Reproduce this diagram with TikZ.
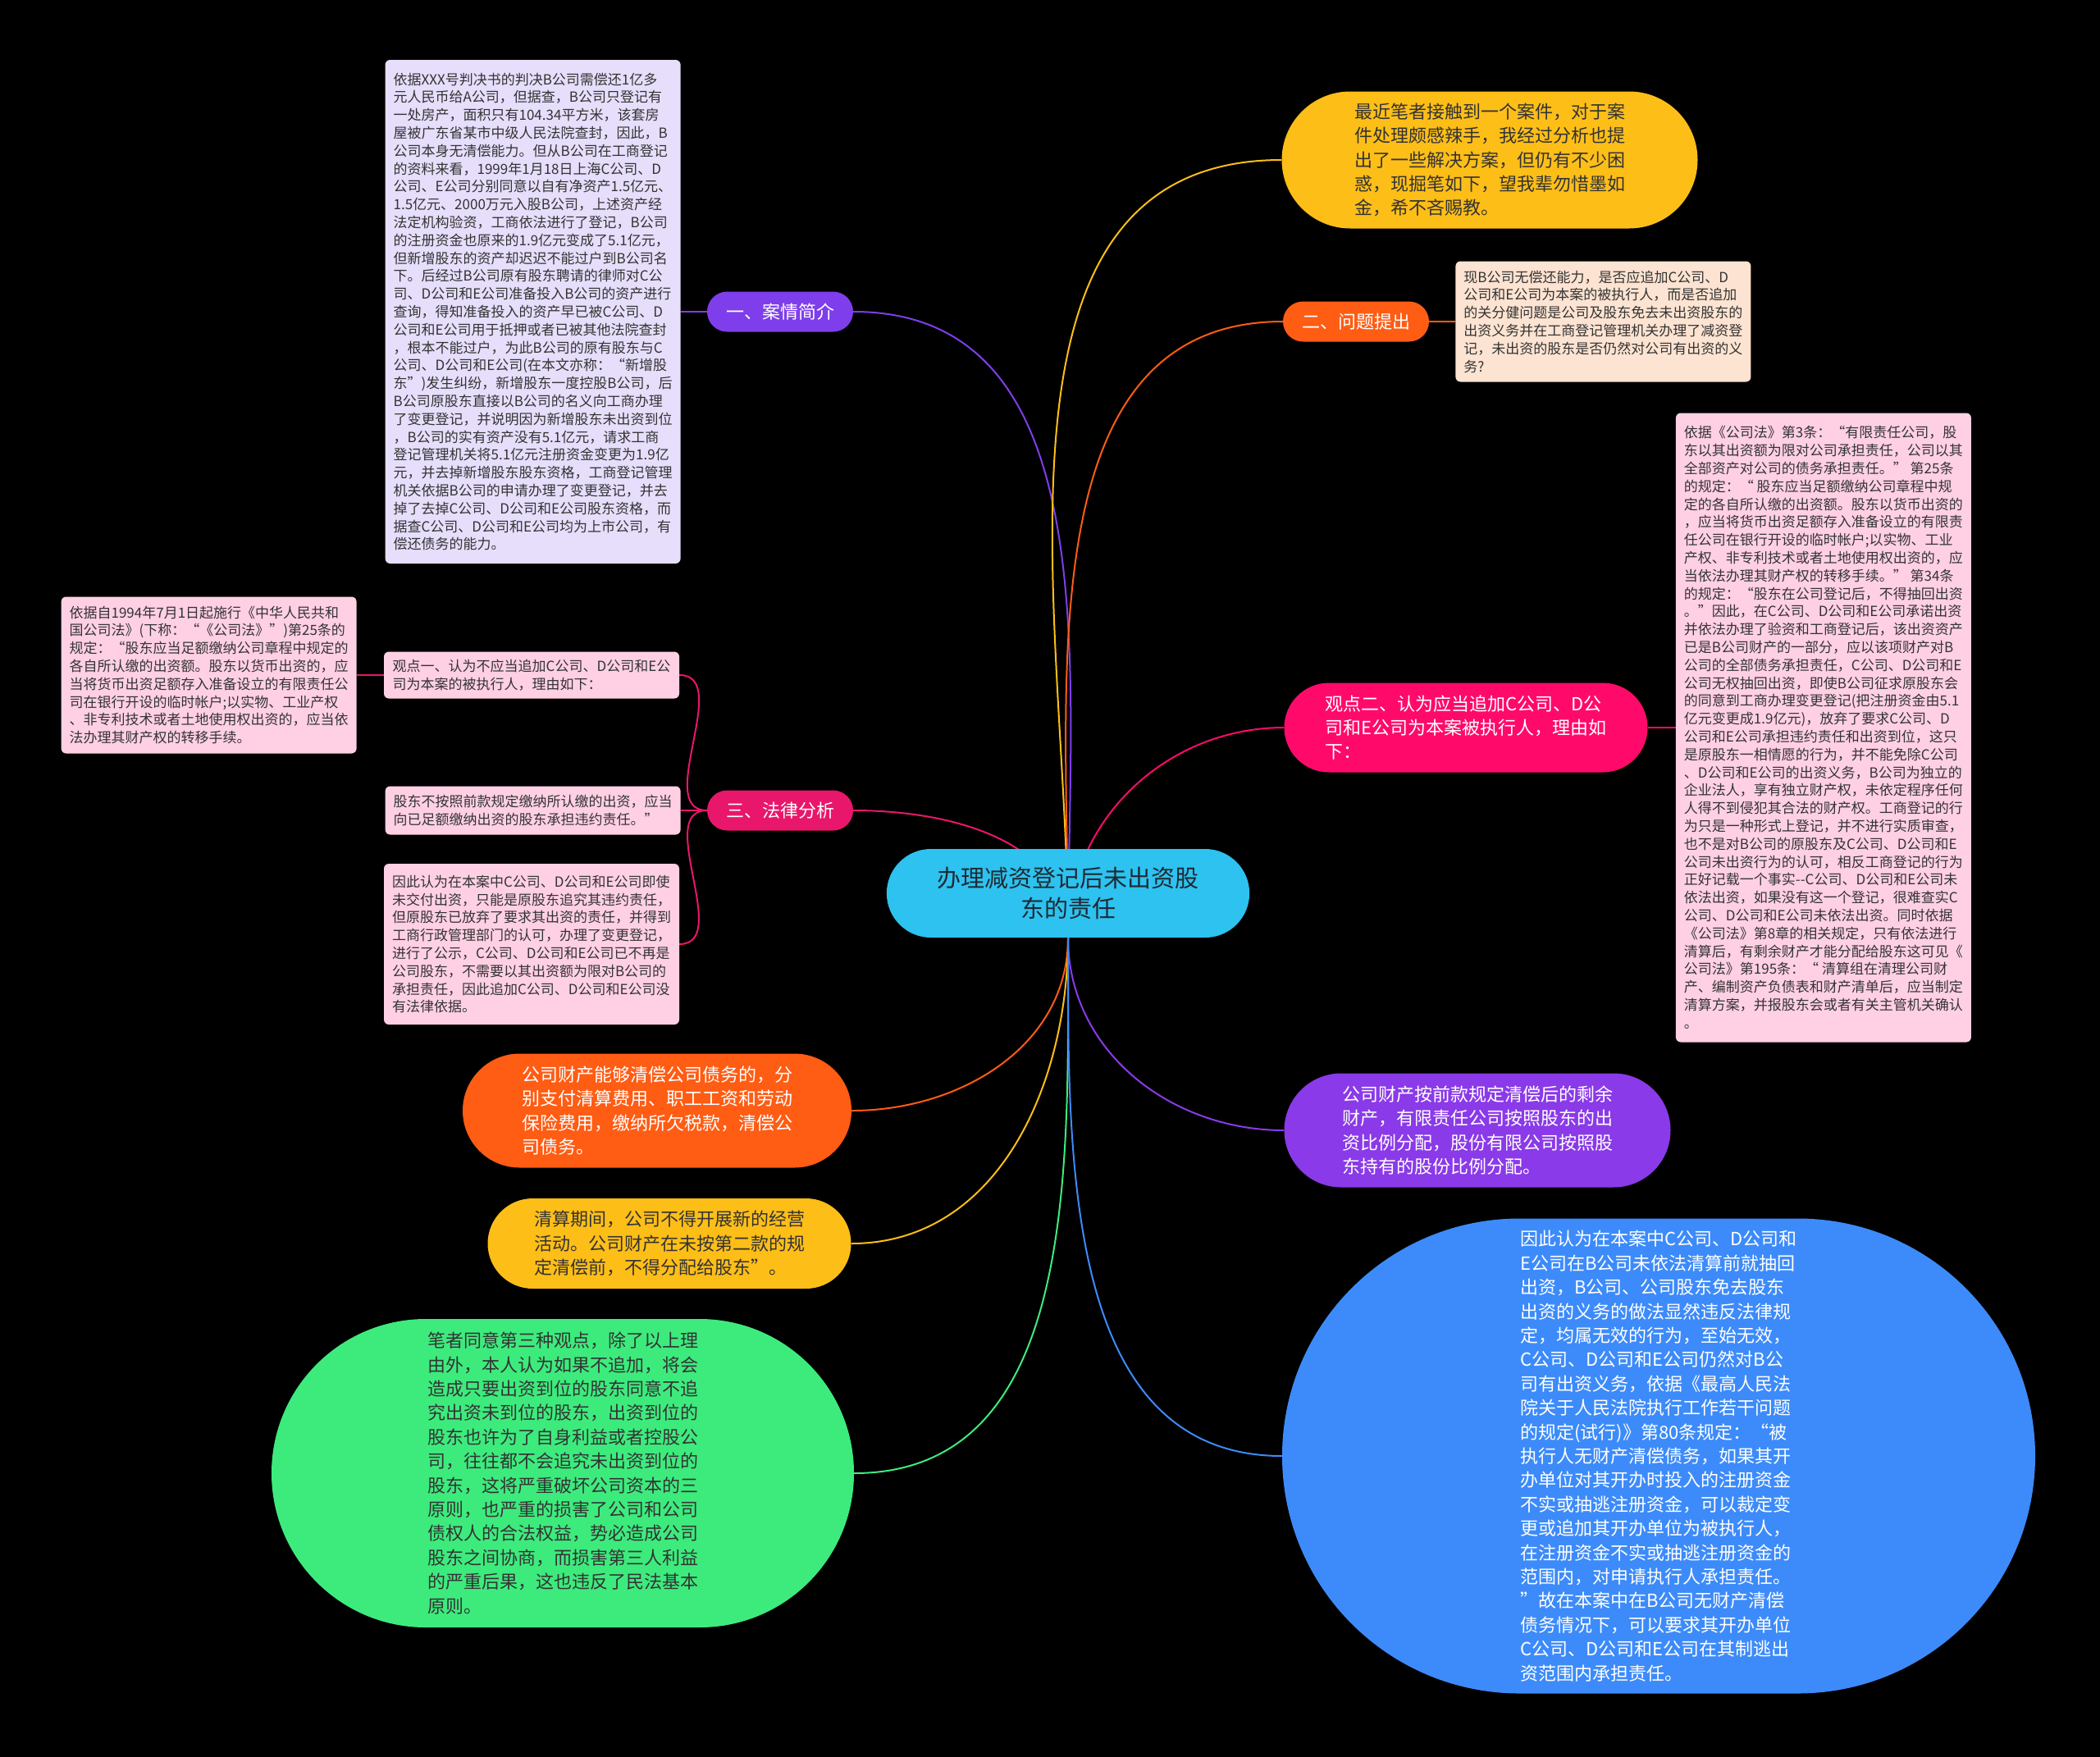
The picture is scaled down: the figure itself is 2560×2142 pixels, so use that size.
\documentclass[tikz,border=0pt]{standalone}
\usepackage{fontspec}
\setmainfont{Noto Sans CJK SC}
\usetikzlibrary{positioning,shapes.misc}
\definecolor{rootcyan}{HTML}{2DC2EF}
\definecolor{rootink}{HTML}{1E2A33}
\definecolor{inkgrey}{HTML}{333333}
\definecolor{mmpurple}{HTML}{7E3EEB}
\definecolor{mmcrimson}{HTML}{E8176B}
\definecolor{mmorange}{HTML}{FF5C14}
\definecolor{mmamber}{HTML}{FDBE18}
\definecolor{mmmagenta}{HTML}{FF0A6B}
\definecolor{mmviolet}{HTML}{8A3AE8}
\definecolor{mmblue}{HTML}{3D8BFA}
\definecolor{mmgreen}{HTML}{3DEB7D}
\definecolor{mmlavender}{HTML}{E6DEFB}
\definecolor{mmpink}{HTML}{FFD0E4}
\definecolor{mmpeach}{HTML}{FDE3D1}
\pgfdeclarelayer{links}
\pgfsetlayers{links,main}
\tikzset{
  note/.style  = {rounded corners=6pt, align=left, text=inkgrey, inner xsep=8pt,
                  inner ysep=8pt, minimum width=360pt, font=\fontsize{17}{21.8}\selectfont},
  topic/.style = {rounded rectangle, fill=#1, text=white, minimum width=182pt,
                  minimum height=49pt, inner sep=2pt, font=\fontsize{22}{26}\selectfont},
  pill/.style  = {rounded rectangle, fill=#1, align=left, inner sep=4pt,
                  font=\fontsize{22}{29.4}\selectfont},
  link/.style  = {line width=2pt, draw=#1},
}
\begin{document}
\begin{tikzpicture}[x=1pt, y=-1pt]
  \useasboundingbox (0,0) rectangle (2560,2142);
  % central topic
  \node[rounded rectangle, fill=rootcyan, text=rootink, align=center, minimum width=449pt,
        minimum height=108pt, font=\fontsize{29}{37.5}\selectfont] (root) at (1302,1089)
        {办理减资登记后未出资股\\东的责任};
  \coordinate (hub) at (root.south);
  % left branches
  \node[topic=mmpurple] (brief) at (951,380) {一、案情简介};
  \node[note, fill=mmlavender, minimum height=614pt, left=32pt of brief] (facts)
    {依据XXX号判决书的判决B公司需偿还1亿多\\
     元人民币给A公司，但据查，B公司只登记有\\
     一处房产，面积只有104.34平方米，该套房\\
     屋被广东省某市中级人民法院查封，因此，B\\
     公司本身无清偿能力。但从B公司在工商登记\\
     的资料来看，1999年1月18日上海C公司、D\\
     公司、E公司分别同意以自有净资产1.5亿元、\\
     1.5亿元、2000万元入股B公司，上述资产经\\
     法定机构验资，工商依法进行了登记，B公司\\
     的注册资金也原来的1.9亿元变成了5.1亿元，\\
     但新增股东的资产却迟迟不能过户到B公司名\\
     下。后经过B公司原有股东聘请的律师对C公\\
     司、D公司和E公司准备投入B公司的资产进行\\
     查询，得知准备投入的资产早已被C公司、D\\
     公司和E公司用于抵押或者已被其他法院查封\\
     ，根本不能过户，为此B公司的原有股东与C\\
     公司、D公司和E公司(在本文亦称：“新增股\\
     东”)发生纠纷，新增股东一度控股B公司，后\\
     B公司原股东直接以B公司的名义向工商办理\\
     了变更登记，并说明因为新增股东未出资到位\\
     ，B公司的实有资产没有5.1亿元，请求工商\\
     登记管理机关将5.1亿元注册资金变更为1.9亿\\
     元，并去掉新增股东股东资格，工商登记管理\\
     机关依据B公司的申请办理了变更登记，并去\\
     掉了去掉C公司、D公司和E公司股东资格，而\\
     据查C公司、D公司和E公司均为上市公司，有\\
     偿还债务的能力。};
  \node[topic=mmcrimson] (law) at (951,988) {三、法律分析};
  \node[note, fill=mmpink, minimum height=57pt] (view1) at (648,823)
    {观点一、认为不应当追加C公司、D公司和E公\\
     司为本案的被执行人，理由如下：};
  \node[note, fill=mmpink, minimum height=191pt, left=33pt of view1] (statute)
    {依据自1994年7月1日起施行《中华人民共和\\
     国公司法》(下称：“《公司法》”)第25条的\\
     规定：“股东应当足额缴纳公司章程中规定的\\
     各自所认缴的出资额。股东以货币出资的，应\\
     当将货币出资足额存入准备设立的有限责任公\\
     司在银行开设的临时帐户;以实物、工业产权\\
     、非专利技术或者土地使用权出资的，应当依\\
     法办理其财产权的转移手续。};
  \node[note, fill=mmpink, minimum height=59pt, left=32pt of law] (breach)
    {股东不按照前款规定缴纳所认缴的出资，应当\\
     向已足额缴纳出资的股东承担违约责任。”};
  \node[note, fill=mmpink, minimum height=196pt] (noadd) at (648,1151)
    {因此认为在本案中C公司、D公司和E公司即使\\
     未交付出资，只能是原股东追究其违约责任，\\
     但原股东已放弃了要求其出资的责任，并得到\\
     工商行政管理部门的认可，办理了变更登记，\\
     进行了公示，C公司、D公司和E公司已不再是\\
     公司股东，不需要以其出资额为限对B公司的\\
     承担责任，因此追加C公司、D公司和E公司没\\
     有法律依据。};
  \node[pill=mmorange, text=white, minimum width=482pt, minimum height=139pt] (settle) at (801,1354)
    {公司财产能够清偿公司债务的，分\\
     别支付清算费用、职工工资和劳动\\
     保险费用，缴纳所欠税款，清偿公\\
     司债务。};
  \node[pill=mmamber, text=inkgrey, minimum width=451pt, minimum height=110pt] (winding) at (816,1516)
    {清算期间，公司不得开展新的经营\\
     活动。公司财产在未按第二款的规\\
     定清偿前，不得分配给股东”。};
  \node[pill=mmgreen, text=inkgrey, minimum width=718pt, minimum height=376pt] (opinion) at (686,1796)
    {笔者同意第三种观点，除了以上理\\
     由外，本人认为如果不追加，将会\\
     造成只要出资到位的股东同意不追\\
     究出资未到位的股东，出资到位的\\
     股东也许为了自身利益或者控股公\\
     司，往往都不会追究未出资到位的\\
     股东，这将严重破坏公司资本的三\\
     原则，也严重的损害了公司和公司\\
     债权人的合法权益，势必造成公司\\
     股东之间协商，而损害第三人利益\\
     的严重后果，这也违反了民法基本\\
     原则。};
  % right branches
  \node[pill=mmamber, text=inkgrey, minimum width=515pt, minimum height=167pt] (intro) at (1816,195)
    {最近笔者接触到一个案件，对于案\\
     件处理颇感辣手，我经过分析也提\\
     出了一些解决方案，但仍有不少困\\
     惑，现掘笔如下，望我辈勿惜墨如\\
     金，希不吝赐教。};
  \node[topic=mmorange] (issue) at (1653,392) {二、问题提出};
  \node[note, fill=mmpeach, minimum height=147pt, right=32pt of issue] (question)
    {现B公司无偿还能力，是否应追加C公司、D\\
     公司和E公司为本案的被执行人，而是否追加\\
     的关分健问题是公司及股东免去未出资股东的\\
     出资义务并在工商登记管理机关办理了减资登\\
     记，未出资的股东是否仍然对公司有出资的义\\
     务?};
  \node[pill=mmmagenta, text=white, minimum width=451pt, minimum height=109pt] (view2) at (1787,887)
    {观点二、认为应当追加C公司、D公\\
     司和E公司为本案被执行人，理由如\\
     下：};
  \node[note, fill=mmpink, minimum height=767pt, right=34pt of view2] (reason)
    {依据《公司法》第3条：“有限责任公司，股\\
     东以其出资额为限对公司承担责任，公司以其\\
     全部资产对公司的债务承担责任。” 第25条\\
     的规定：“ 股东应当足额缴纳公司章程中规\\
     定的各自所认缴的出资额。股东以货币出资的\\
     ，应当将货币出资足额存入准备设立的有限责\\
     任公司在银行开设的临时帐户;以实物、工业\\
     产权、非专利技术或者土地使用权出资的，应\\
     当依法办理其财产权的转移手续。” 第34条\\
     的规定：“股东在公司登记后，不得抽回出资\\
     。”因此，在C公司、D公司和E公司承诺出资\\
     并依法办理了验资和工商登记后，该出资资产\\
     已是B公司财产的一部分，应以该项财产对B\\
     公司的全部债务承担责任，C公司、D公司和E\\
     公司无权抽回出资，即使B公司征求原股东会\\
     的同意到工商办理变更登记(把注册资金由5.1\\
     亿元变更成1.9亿元)，放弃了要求C公司、D\\
     公司和E公司承担违约责任和出资到位，这只\\
     是原股东一相情愿的行为，并不能免除C公司\\
     、D公司和E公司的出资义务，B公司为独立的\\
     企业法人，享有独立财产权，未依定程序任何\\
     人得不到侵犯其合法的财产权。工商登记的行\\
     为只是一种形式上登记，并不进行实质审查，\\
     也不是对B公司的原股东及C公司、D公司和E\\
     公司未出资行为的认可，相反工商登记的行为\\
     正好记载一个事实-{}-C公司、D公司和E公司未\\
     依法出资，如果没有这一个登记，很难查实C\\
     公司、D公司和E公司未依法出资。同时依据\\
     《公司法》第8章的相关规定，只有依法进行\\
     清算后，有剩余财产才能分配给股东这可见《\\
     公司法》第195条：“ 清算组在清理公司财\\
     产、编制资产负债表和财产清单后，应当制定\\
     清算方案，并报股东会或者有关主管机关确认\\
     。};
  \node[pill=mmviolet, text=white, minimum width=479pt, minimum height=139pt] (surplus) at (1801,1378)
    {公司财产按前款规定清偿后的剩余\\
     财产，有限责任公司按照股东的出\\
     资比例分配，股份有限公司按照股\\
     东持有的股份比例分配。};
  \node[pill=mmblue, text=white, minimum width=926pt, minimum height=579pt] (verdict) at (2022,1775)
    {因此认为在本案中C公司、D公司和\\
     E公司在B公司未依法清算前就抽回\\
     出资，B公司、公司股东免去股东\\
     出资的义务的做法显然违反法律规\\
     定，均属无效的行为，至始无效，\\
     C公司、D公司和E公司仍然对B公\\
     司有出资义务，依据《最高人民法\\
     院关于人民法院执行工作若干问题\\
     的规定(试行)》第80条规定：“被\\
     执行人无财产清偿债务，如果其开\\
     办单位对其开办时投入的注册资金\\
     不实或抽逃注册资金，可以裁定变\\
     更或追加其开办单位为被执行人，\\
     在注册资金不实或抽逃注册资金的\\
     范围内，对申请执行人承担责任。\\
     ”故在本案中在B公司无财产清偿\\
     债务情况下，可以要求其开办单位\\
     C公司、D公司和E公司在其制逃出\\
     资范围内承担责任。};
  % connectors
  \begin{pgfonlayer}{links}
    \fill[black] (0,0) rectangle (2560,2142);
    \draw[link=mmpurple] (hub) to[out=90, in=0] (brief.east);
    \draw[link=mmpurple] (brief.west) -- (facts.east);
    \draw[link=mmcrimson] (hub) to[out=90, in=0] (law.east);
    \draw[link=mmcrimson] (law.west) to[out=180, in=0] (view1.east);
    \draw[link=mmcrimson] (law.west) -- (breach.east);
    \draw[link=mmcrimson] (law.west) to[out=180, in=0] (noadd.east);
    \draw[link=mmcrimson] (view1.west) -- (statute.east);
    \draw[link=mmorange] (hub) to[out=-90, in=0] (settle.east);
    \draw[link=mmamber] (hub) to[out=-90, in=0] (winding.east);
    \draw[link=mmgreen] (hub) to[out=-90, in=0] (opinion.east);
    \draw[link=mmamber] (hub) to[out=90, in=180] (intro.west);
    \draw[link=mmorange] (hub) to[out=90, in=180] (issue.west);
    \draw[link=mmorange] (issue.east) -- (question.west);
    \draw[link=mmmagenta] (hub) to[out=90, in=180] (view2.west);
    \draw[link=mmmagenta] (view2.east) -- (reason.west);
    \draw[link=mmviolet] (hub) to[out=-90, in=180] (surplus.west);
    \draw[link=mmblue] (hub) to[out=-90, in=180] (verdict.west);
  \end{pgfonlayer}
\end{tikzpicture}
\end{document}
